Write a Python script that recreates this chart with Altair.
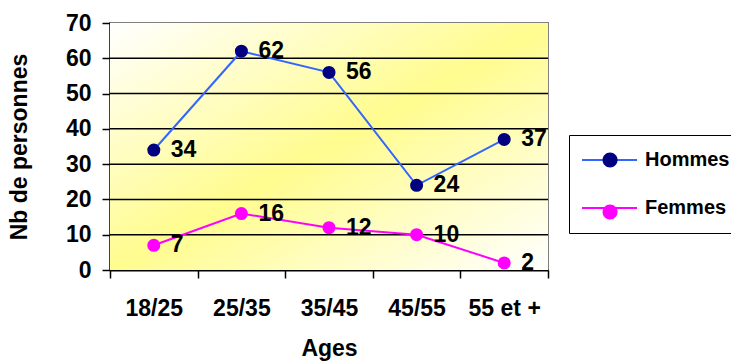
import altair as alt
import pandas as pd

# Age brackets and head counts per series
ages = ["18/25", "25/35", "35/45", "45/55", "55 et +"]
hommes = [34, 62, 56, 24, 37]
femmes = [7, 16, 12, 10, 2]

series = ["Hommes", "Femmes"]
line_colors = ["#3366FF", "#FF00FF"]
marker_colors = ["#000080", "#FF00FF"]

# Value-axis ticks and the horizontal reference lines between them
y_ticks = [0, 10, 20, 30, 40, 50, 60, 70]
grid_values = [10, 20, 30, 40, 50, 60]

rows = []
for name, values in zip(series, [hommes, femmes]):
    for age, v in zip(ages, values):
        # "marker" duplicates the series name so the marker legend stays separate
        rows.append({"age": age, "serie": name, "marker": name, "value": v})
df = pd.DataFrame(rows)

FONT = "Liberation Sans"
FS = 23
YELLOW = "#FFFC8F"

x_enc = alt.X(
    "age:N",
    sort=ages,
    scale=alt.Scale(type="band", domain=ages, paddingInner=0, paddingOuter=0),
    axis=alt.Axis(
        title="Ages",
        labelAngle=0,
        tickBand="extent",
        grid=False,
        domainColor="black",
        domainWidth=2,
        tickColor="black",
        tickWidth=1.5,
        tickSize=8,
        labelFont=FONT,
        labelFontSize=FS,
        labelFontWeight="bold",
        labelColor="black",
        labelBaseline="alphabetic",
        labelPadding=37,
        labelOverlap=False,
        labelFlush=False,
        titleFont=FONT,
        titleFontSize=FS,
        titleFontWeight="bold",
        titleColor="black",
        titleBaseline="alphabetic",
        titleX=219,
        titleY=85,
    ),
)

y_scale = alt.Scale(domain=[0, 70], nice=False)

y_axis = alt.Axis(
    title="Nb de personnes",
    values=y_ticks,
    grid=False,
    domainColor="black",
    domainWidth=2,
    tickColor="black",
    tickWidth=1.5,
    tickSize=8,
    labelFont=FONT,
    labelFontSize=FS,
    labelFontWeight="bold",
    labelColor="black",
    labelPadding=11,
    labelOverlap=False,
    labelFlush=False,
    titleFont=FONT,
    titleFontSize=FS,
    titleFontWeight="bold",
    titleColor="black",
    titleBaseline="alphabetic",
    titleAlign="center",
    titleX=-84,
    titleY=123.5,
)

y_enc = alt.Y("value:Q", scale=y_scale, axis=y_axis)

gradient = alt.LinearGradient(
    gradient="linear",
    stops=[
        alt.GradientStop(color="white", offset=0),
        alt.GradientStop(color=YELLOW, offset=0.5),
        alt.GradientStop(color="white", offset=1),
    ],
    x1=0,
    y1=0,
    x2=1,
    y2=1,
)

# Plot-area background with a diagonal gradient
backdrop = alt.Chart(pd.DataFrame({"k": [0]})).mark_rect(color=gradient).encode(
    x=alt.value(0), x2=alt.value("width"), y=alt.value(0), y2=alt.value("height")
)

grid = alt.Chart(pd.DataFrame({"value": grid_values})).mark_rule(
    color="black", strokeWidth=1.5
).encode(y=y_enc)

base = alt.Chart(df).encode(x=x_enc, y=y_enc)

# Shared legend layout: both legends use the same symbol size so their rows line up
legend_common = dict(
    title=None,
    orient="none",
    legendX=459,
    legendY=112,
    padding=15,
    symbolSize=170,
    symbolStrokeWidth=2,
    labelFont=FONT,
    labelFontSize=20,
    labelFontWeight="bold",
    labelColor="black",
    labelOffset=41,
    rowPadding=28,
)

lines = base.mark_line(strokeWidth=2).encode(
    stroke=alt.Stroke(
        "serie:N",
        sort=series,
        scale=alt.Scale(domain=series, range=line_colors),
        legend=alt.Legend(
            strokeColor="black",
            fillColor="white",
            symbolType="M-1.84,0H6.6",
            zindex=0,
            **legend_common,
        ),
    )
)

# Marker legend: circles only, drawn over the line legend (its labels are blank)
points = base.mark_point(shape="circle", filled=True, size=170, opacity=1, strokeWidth=0).encode(
    fill=alt.Fill(
        "marker:N",
        sort=series,
        scale=alt.Scale(domain=series, range=marker_colors),
        legend=alt.Legend(
            symbolType="M3.61,0A1.15,1.15 0 1,1 1.31,0A1.15,1.15 0 1,1 3.61,0Z",
            symbolStrokeColor="transparent",
            labelExpr="' '",
            zindex=2,
            **legend_common,
        ),
    )
)

labels = base.mark_text(
    align="left",
    baseline="middle",
    dx=17,
    font=FONT,
    fontSize=FS,
    fontWeight="bold",
    color="black",
).encode(text="value:Q")

chart = (
    alt.layer(backdrop, grid, lines, points, labels)
    .resolve_legend(stroke="independent", fill="independent")
    .properties(
        width=438,
        height=247,
        autosize=alt.AutoSizeParams(type="none"),
        padding={"left": 110, "top": 23, "right": 183, "bottom": 91},
        background="white",
    )
    .configure_view(stroke="#808080", strokeWidth=2)
)

chart.save("out.html", embed_options={"renderer": "svg", "actions": False})
